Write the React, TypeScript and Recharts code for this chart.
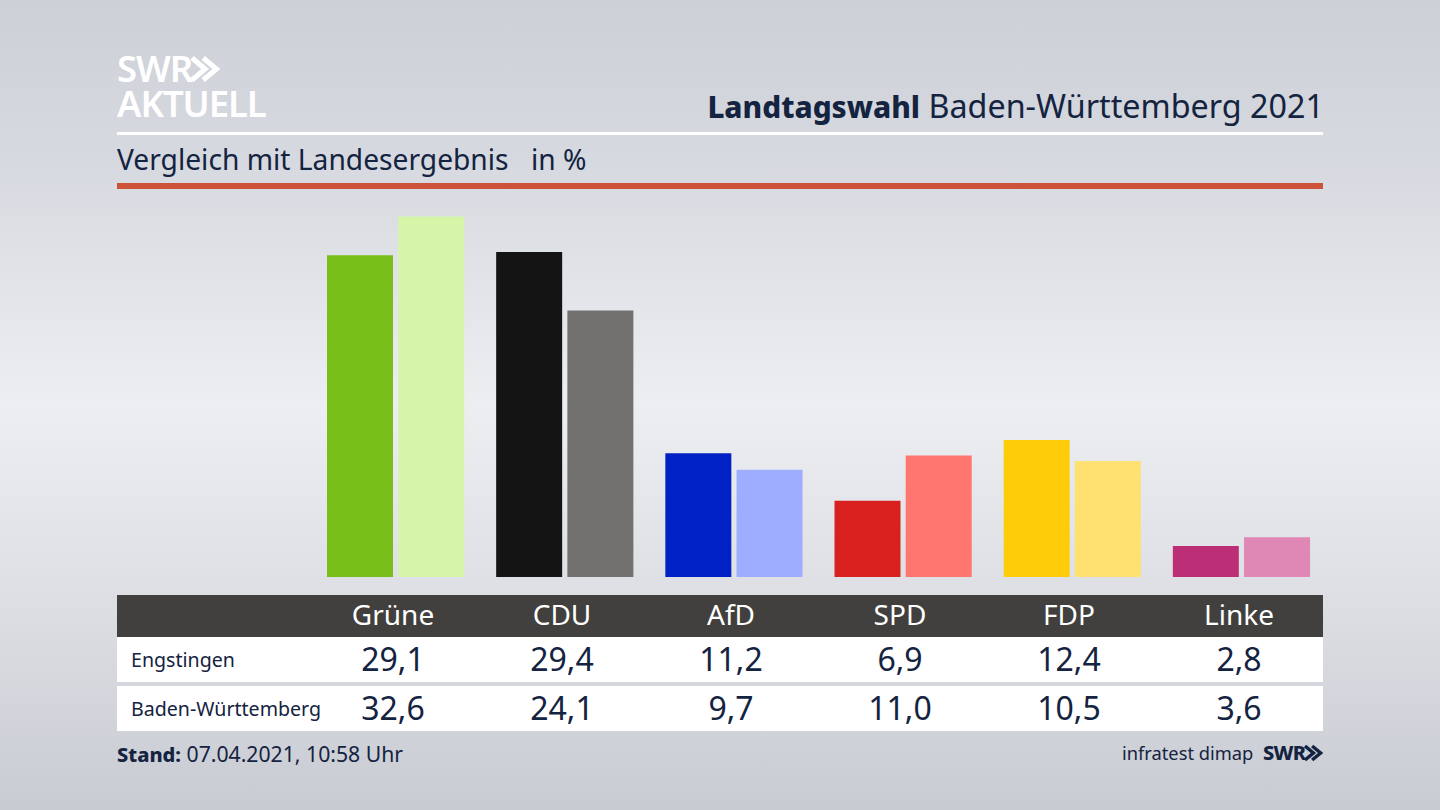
import React from "react";
import { BarChart, Bar, Cell, XAxis, YAxis } from "recharts";

const parties = ["Grüne", "CDU", "AfD", "SPD", "FDP", "Linke"];
const local = [29.1, 29.4, 11.2, 6.9, 12.4, 2.8];
const state = [32.6, 24.1, 9.7, 11.0, 10.5, 3.6];
const localColors = ["#78be19", "#141414", "#0021c4", "#d8201f", "#ffcc0a", "#bc2f76"];
const stateColors = ["#d6f5a8", "#72716f", "#9eadff", "#ff7570", "#ffe171", "#df88b6"];
const rowLabels = ["Engstingen", "Baden-Württemberg"];
const labelCenters = [393, 562, 731, 900, 1069, 1239];

const data = parties.map((party, i) => ({ party, local: local[i], state: state[i] }));
const fmt = (v: number) => v.toFixed(1).replace(".", ",");
const FONT = '"Noto Sans", sans-serif';
const NAVY = "#14233f";

const abs = (left: number, top: number, width: number, height: number, extra: React.CSSProperties = {}): React.CSSProperties => ({
  position: "absolute", left, top, width, height, ...extra,
});

const txt = (x: number, y: number, size: number, color: string, extra: React.CSSProperties = {}): React.CSSProperties => ({
  position: "absolute", left: x, top: y, fontSize: size, color, lineHeight: "1", whiteSpace: "nowrap", ...extra,
});

function Chevrons({ x, y, h, color, sw }: { x: number; y: number; h: number; color: string; sw: number }) {
  const w = h * 0.6;
  return (
    <svg style={{ position: "absolute", left: x, top: y, overflow: "visible" }} width={w * 2} height={h}>
      {[0, 1].map((k) => (
        <polyline key={k} fill="none" stroke={color} strokeWidth={sw}
          points={`${k * w * 0.85},0 ${k * w * 0.85 + w},${h / 2} ${k * w * 0.85},${h}`} />
      ))}
    </svg>
  );
}

export default function App() {
  return (
    <div style={{
      position: "fixed", left: 0, top: 0, width: 1440, height: 810, overflow: "hidden", fontFamily: FONT,
      background: "linear-gradient(180deg,#cdd0d7 0%,#d6d9df 20%,#edeef2 50%,#dcdee3 75%,#c8cbd2 100%)",
    }}>
      <div style={txt(117, 51, 36.5, "#fff", { fontWeight: 650, letterSpacing: -1.1, lineHeight: "35px" })}>
        SWR<br />AKTUELL
      </div>
      <Chevrons x={192} y={58} h={22} color="#fff" sw={5} />

      <div style={txt(1324, 89, 32.3, NAVY, { transform: "translateX(-100%)" })}>
        <b style={{ fontWeight: 800, fontSize: 29.8 }}>Landtagswahl</b> Baden-Württemberg 2021
      </div>
      <div style={abs(117, 132, 1206, 3, { background: "#fff" })} />
      <div style={txt(117, 145, 28.2, NAVY)}>Vergleich mit Landesergebnis</div>
      <div style={txt(531, 145, 28.2, NAVY)}>in %</div>
      <div style={abs(117, 183, 1206, 6, { background: "#cc5239" })} />

      <div style={abs(311, 200, 1015, 377)}>
        <BarChart width={1015} height={377} data={data} margin={{ top: 0, right: 0, bottom: 0, left: 0 }}
          barSize={66} barGap={5.2} barCategoryGap={0}>
          <XAxis dataKey="party" hide />
          <YAxis hide domain={[0, 34.1]} />
          <Bar dataKey="local" isAnimationActive={false}>
            {localColors.map((c) => <Cell key={c} fill={c} />)}
          </Bar>
          <Bar dataKey="state" isAnimationActive={false}>
            {stateColors.map((c) => <Cell key={c} fill={c} />)}
          </Bar>
        </BarChart>
      </div>

      <div style={abs(117, 595, 1206, 42, { background: "#41403e" })} />
      <div style={abs(117, 637, 1206, 45, { background: "#fff" })} />
      <div style={abs(117, 686, 1206, 45, { background: "#fff" })} />

      {parties.map((p, i) => (
        <div key={p} style={txt(labelCenters[i], 600, 28, "#fff", { transform: "translateX(-50%)" })}>{p}</div>
      ))}
      <div style={txt(131, 650, 19.6, NAVY)}>{rowLabels[0]}</div>
      <div style={txt(131, 699, 19.6, NAVY)}>{rowLabels[1]}</div>
      {local.map((v, i) => (
        <div key={i} style={txt(labelCenters[i], 643, 32, NAVY, { transform: "translateX(-50%)" })}>{fmt(v)}</div>
      ))}
      {state.map((v, i) => (
        <div key={i} style={txt(labelCenters[i], 692, 32, NAVY, { transform: "translateX(-50%)" })}>{fmt(v)}</div>
      ))}

      <div style={txt(117, 743, 21.2, NAVY)}><b style={{ fontWeight: 800, fontSize: 20 }}>Stand:</b> 07.04.2021, 10:58 Uhr</div>
      <div style={txt(1122, 744, 18.3, NAVY)}>infratest dimap</div>
      <div style={txt(1263, 743, 20, NAVY, { fontWeight: 800, letterSpacing: -0.8 })}>SWR</div>
      <Chevrons x={1305} y={746} h={14} color={NAVY} sw={3.5} />
    </div>
  );
}
